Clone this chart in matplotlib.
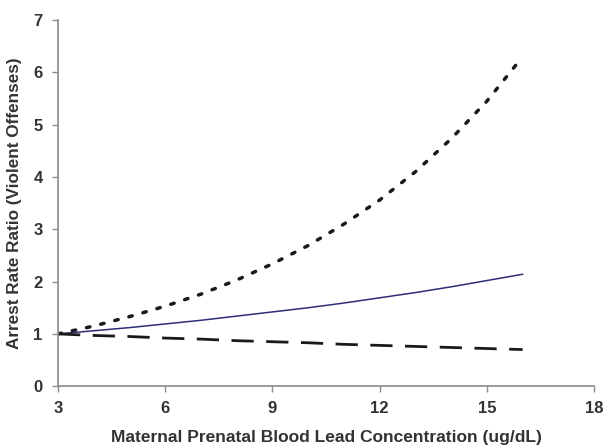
import matplotlib
matplotlib.use("Agg")
import matplotlib.pyplot as plt

lead = [3, 4, 5, 6, 7, 8, 9, 10, 11, 12, 13, 14, 15, 16]
rr_estimate = [1.00, 1.06, 1.12, 1.19, 1.26, 1.34, 1.42, 1.50, 1.59, 1.69, 1.79, 1.90, 2.02, 2.14]
rr_upper = [1.00, 1.15, 1.33, 1.53, 1.76, 2.03, 2.34, 2.69, 3.10, 3.56, 4.10, 4.73, 5.45, 6.30]
rr_lower = [1.00, 0.97, 0.95, 0.92, 0.90, 0.87, 0.85, 0.83, 0.80, 0.78, 0.76, 0.74, 0.72, 0.70]

xticks = [3, 6, 9, 12, 15, 18]
yticks = [0, 1, 2, 3, 4, 5, 6, 7]

plt.rcParams['font.family'] = ['Liberation Sans', 'DejaVu Sans']
text_col = '#333333'
spine_col = '#8a8a8a'

fig = plt.figure(figsize=(6.05, 4.48), dpi=100)
ax = fig.add_axes([0.0959, 0.138, 0.886, 0.817])

ax.plot(lead, rr_upper, color='#1a1a1a', lw=2.5, linestyle=(0, (1.0, 3.2)), dash_capstyle='round')
ax.plot(lead, rr_estimate, color='#2e2e78', lw=1.1)
ax.plot(lead, rr_lower, color='#1a1a1a', lw=2.0, linestyle=(0, (8, 4.5)))

ax.set_xlim(3, 18)
ax.set_ylim(0, 7)
ax.set_xticks(xticks)
ax.set_yticks(yticks)
for s in ['top', 'right']:
    ax.spines[s].set_visible(False)
for s in ['left', 'bottom']:
    ax.spines[s].set_color(spine_col)
    ax.spines[s].set_linewidth(1.2)
ax.tick_params(axis='both', colors=spine_col, direction='out', length=4, width=1.0,
               labelcolor=text_col, labelsize=12, pad=7)
for lab in ax.get_xticklabels() + ax.get_yticklabels():
    lab.set_fontweight('bold')

ax.set_xlabel('Maternal Prenatal Blood Lead Concentration (ug/dL)', fontsize=12.5,
              fontweight='bold', color=text_col, labelpad=10)
ax.set_ylabel('Arrest Rate Ratio (Violent Offenses)', fontsize=12.3,
              fontweight='bold', color=text_col, labelpad=8)

fig.savefig('out.png', dpi=100)
